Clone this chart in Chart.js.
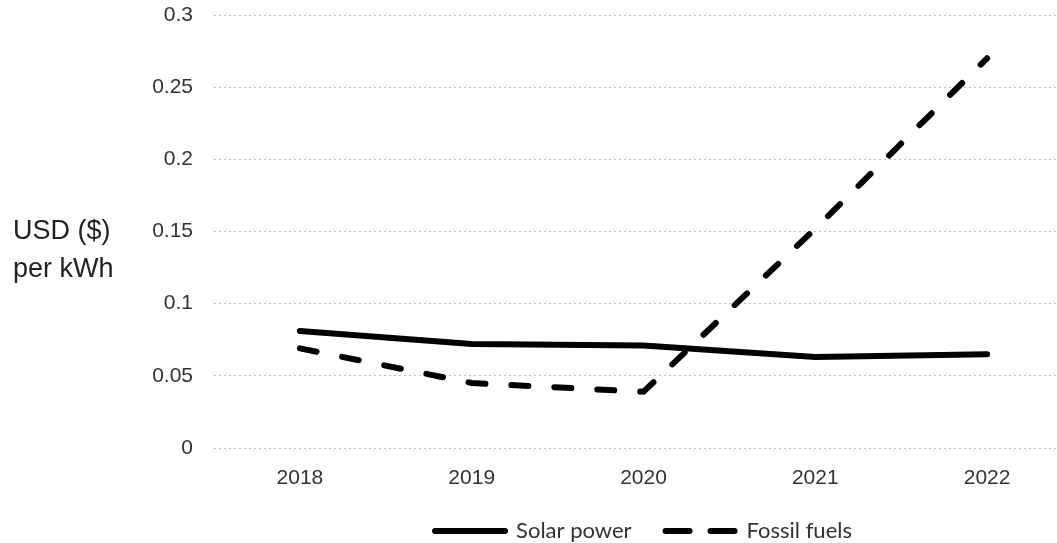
<!DOCTYPE html>
<html>
<head>
<meta charset="utf-8">
<script src="https://cdn.jsdelivr.net/npm/chart.js@4.4.0/dist/chart.umd.min.js"></script>
<style>
  html, body { margin: 0; padding: 0; background: #fff; overflow: hidden; }
  #wrap { position: relative; width: 1073px; height: 543px; }
  #ytitle {
    position: absolute; left: 13px; top: 211px;
    font: 27px "Liberation Sans", Arial, sans-serif;
    line-height: 38px; color: #222;
  }
</style>
</head>
<body>
<div id="wrap">
  <canvas id="chart" width="1073" height="543"></canvas>
  <div id="ytitle">USD ($)<br>per kWh</div>
</div>
<script>
// Data
const years = ['2018', '2019', '2020', '2021', '2022'];
const solarPower = [0.081, 0.072, 0.071, 0.063, 0.065];
const fossilFuels = [0.069, 0.045, 0.039, 0.152, 0.270];
const yMin = 0;
const yMax = 0.3;
const yStep = 0.05;

const tickFont = { family: '"Liberation Sans", Arial, sans-serif', size: 21 };
const legendFont = { family: 'Lato, sans-serif', size: 22 };

const ctx = document.getElementById('chart').getContext('2d');
const chart = new Chart(ctx, {
    type: 'line',
    data: {
        labels: years,
        datasets: [
            {
                label: 'Solar power',
                data: solarPower,
                borderColor: '#000',
                backgroundColor: '#000',
                borderWidth: 6,
                borderCapStyle: 'round',
                pointRadius: 0,
                tension: 0
            },
            {
                label: 'Fossil fuels',
                data: fossilFuels,
                borderColor: '#000',
                backgroundColor: '#000',
                borderWidth: 6,
                borderCapStyle: 'round',
                borderDash: [17, 26],
                pointRadius: 0,
                tension: 0
            }
        ]
    },
    options: {
        responsive: false,
        animation: false,
        devicePixelRatio: 1,
        layout: { padding: { top: 15, left: 0, right: 0, bottom: -9 } },
        scales: {
            x: {
                offset: true,
                grid: { display: false },
                border: { display: false },
                ticks: { color: '#333', font: tickFont, padding: 10, maxRotation: 0 },
                afterFit: function(scale) { scale.height = 38; }
            },
            y: {
                min: yMin,
                max: yMax,
                border: { display: false, dash: [2, 3] },
                grid: { color: '#bdbdbd', lineWidth: 1, drawTicks: false },
                ticks: {
                    stepSize: yStep,
                    color: '#333',
                    font: tickFont,
                    padding: 21,
                    callback: function(value) { return String(Number(value.toFixed(2))); }
                },
                afterFit: function(scale) {
                    scale.width = 214;
                    scale.paddingTop = 0;
                    scale.paddingBottom = 0;
                }
            }
        },
        plugins: {
            tooltip: { enabled: false },
            legend: {
                position: 'bottom',
                fullSize: false,
                labels: {
                    color: '#333',
                    font: legendFont,
                    usePointStyle: true,
                    pointStyleWidth: 70,
                    padding: 34,
                    generateLabels: function(chart) {
                        const items = Chart.defaults.plugins.legend.labels.generateLabels(chart);
                        items.forEach((item, i) => {
                            item.pointStyle = 'line';
                            item.lineWidth = 6;
                            item.lineCap = 'round';
                            item.lineDash = i === 1 ? [24, 21] : [];
                        });
                        return items;
                    }
                }
            }
        }
    }
});
</script>
</body>
</html>
